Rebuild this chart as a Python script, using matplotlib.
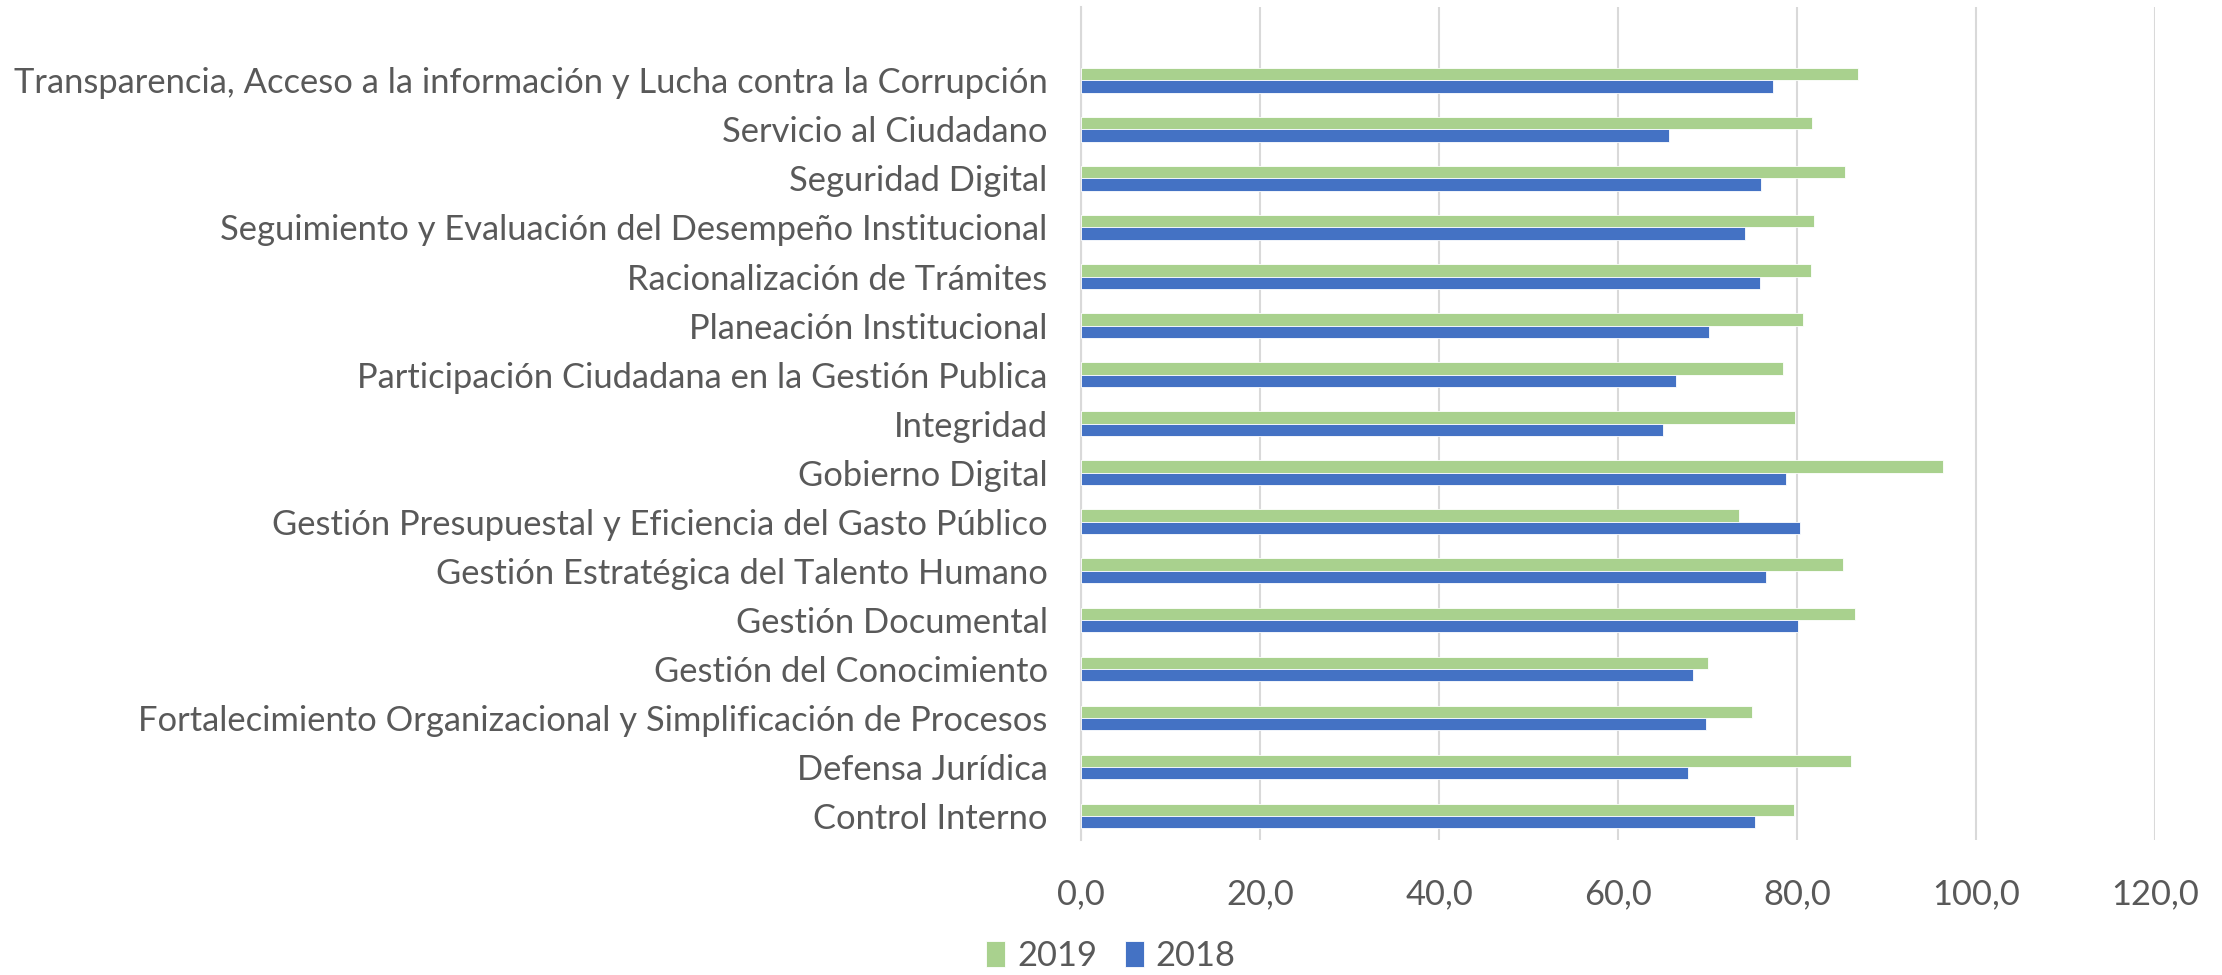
import numpy as np
import matplotlib
matplotlib.use('Agg')
from matplotlib import pyplot as plt

plt.rcParams['font.family'] = ['Lato', 'DejaVu Sans']

# categories from bottom to top, as drawn on the y axis
categories = [
    'Control Interno',
    'Defensa Jurídica',
    'Fortalecimiento Organizacional y Simplificación de Procesos',
    'Gestión del Conocimiento',
    'Gestión Documental',
    'Gestión Estratégica del Talento Humano',
    'Gestión Presupuestal y Eficiencia del Gasto Público',
    'Gobierno Digital',
    'Integridad',
    'Participación Ciudadana en la Gestión Publica',
    'Planeación Institucional',
    'Racionalización de Trámites',
    'Seguimiento y Evaluación del Desempeño Institucional',
    'Seguridad Digital',
    'Servicio al Ciudadano',
    'Transparencia, Acceso a la información y Lucha contra la Corrupción',
]
vals_2019 = [79.6, 86.0, 75.0, 70.0, 86.5, 85.1, 73.5, 96.3, 79.8, 78.4, 80.6, 81.5, 81.9, 85.3, 81.6, 86.8]
vals_2018 = [75.3, 67.8, 69.8, 68.4, 80.1, 76.5, 80.3, 78.8, 65.0, 66.5, 70.2, 75.8, 74.2, 75.9, 65.7, 77.3]
xticks = [0, 20, 40, 60, 80, 100, 120]

green = '#A9D18E'
blue = '#4472C4'
grey_txt = '#595959'

fig = plt.figure(figsize=(22.22, 9.75), dpi=100)
ax = fig.add_axes([0.4865, 0.138, 0.4835, 0.855])

y = np.arange(len(categories))
h = 0.25
b19 = ax.barh(y + h / 2, vals_2019, height=h, color=green, edgecolor='white', linewidth=0.6, label='2019', zorder=3)
b18 = ax.barh(y - h / 2, vals_2018, height=h, color=blue, edgecolor='white', linewidth=0.6, label='2018', zorder=3)

ax.set_xlim(0, 120)
ax.set_ylim(-0.5, 16.5)
ax.set_xticks(xticks)
ax.set_xticklabels([('%.1f' % v).replace('.', ',') for v in xticks])
ax.set_yticks(y)
ax.set_yticklabels(categories)

ax.grid(axis='x', color='#D9D9D9', linewidth=1.5, zorder=0)
for s in ['top', 'right', 'bottom']:
    ax.spines[s].set_visible(False)
ax.spines['left'].set_color('#D9D9D9')
ax.spines['left'].set_linewidth(1.5)
ax.tick_params(axis='y', length=0, pad=24, labelsize=24.8, labelcolor=grey_txt)
ax.tick_params(axis='x', length=0, pad=27, labelsize=24.8, labelcolor=grey_txt)

fig.legend(handles=[b19, b18], labels=['2019', '2018'], loc='lower center',
           bbox_to_anchor=(0.5, -0.011), borderaxespad=0.0, ncol=2, frameon=False,
           fontsize=24.8, labelcolor=grey_txt, handlelength=0.55, handleheight=0.8,
           handletextpad=0.35, columnspacing=0.8)

fig.savefig('out.png', dpi=100)
